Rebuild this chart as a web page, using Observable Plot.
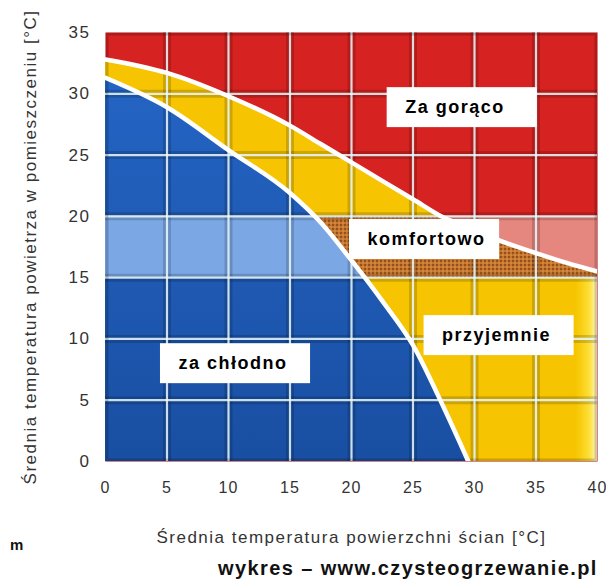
<!DOCTYPE html>
<html><head><meta charset="utf-8">
<script src="https://cdn.jsdelivr.net/npm/d3@7"></script>
<script src="https://cdn.jsdelivr.net/npm/@observablehq/plot@0.6"></script>
<style>
body{margin:0;background:#fff;}
#wrap{position:relative;width:606px;height:584px;overflow:hidden;}
#m{position:absolute;left:10px;top:537px;font:bold 15px "Liberation Sans",Arial,sans-serif;line-height:15px;color:#111;}
#cap{position:absolute;left:218px;top:558px;font:bold 20px "Liberation Sans",Arial,sans-serif;line-height:20px;letter-spacing:1.4px;color:#111;white-space:nowrap;}
</style></head>
<body><div id="wrap"><div id="chart"></div><div id="m">m</div><div id="cap">wykres – www.czysteogrzewanie.pl</div></div>
<script>
// ---- data ----
const xTicks = [0, 5, 10, 15, 20, 25, 30, 35, 40];
const yTicks = [0, 5, 10, 15, 20, 25, 30, 35];
const bandLow = 15, bandHigh = 20;

// boundary between "za chłodno" and the yellow zone
const lowerX = [0, 5, 10, 15, 17.5, 20, 22.5, 25, 27.5, 29.5];
const lowerY = [31.3, 28.9, 25.4, 21.9, 19.5, 16.4, 13.1, 9.5, 4.4, 0];
// boundary between the yellow zone and "Za gorąco"
const upperX = [0, 5, 10, 15, 17.5, 20, 22.5, 25, 27.5, 30, 32.5, 35, 37.5, 40];
const upperY = [32.8, 31.7, 29.8, 27.4, 25.9, 24.4, 22.9, 21.4, 19.9, 18.9, 17.85, 17.0, 16.2, 15.5];

const labelText = ["Za gorąco", "komfortowo", "przyjemnie", "za chłodno"];
const labelX = [22.9, 19.84, 25.9, 4.47];
const labelY = [28.87, 18.11, 10.27, 7.98];

const xLabel = "Średnia temperatura powierzchni ścian [°C]";
const yLabel = "Średnia temperatura powietrza w pomieszczeniu [°C]";

// ---- tables ----
const lower = lowerX.map((x, i) => ({x, y: lowerY[i]}));
const upper = upperX.map((x, i) => ({x, y: upperY[i]}));
const boxW = 12.2, boxH = 3.26;
const labels = labelText.map((t, i) => ({text: t, x: labelX[i], y: labelY[i],
  x1: labelX[i], x2: labelX[i] + boxW, y1: labelY[i] - boxH / 2, y2: labelY[i] + boxH / 2}));
const xDom = [xTicks[0], xTicks[xTicks.length - 1]];
const yDom = [yTicks[0], yTicks[yTicks.length - 1]];
const xInner = xTicks.slice(1, -1), yInner = yTicks.slice(1, -1);

const RED = "#d62220", PINK = "#e6877f", YEL = "#f6c400", LBLUE = "#7ba7e5";
const curve = "monotone-x";

const chart = Plot.plot({
  width: 606, height: 552,
  marginLeft: 105, marginRight: 9, marginTop: 32, marginBottom: 91,
  style: {fontFamily: '"Liberation Sans", Arial, sans-serif', fontSize: "17px", letterSpacing: "1.5px", color: "#333", background: "white"},
  x: {domain: xDom, ticks: xTicks, tickSize: 0, tickPadding: 20, label: xLabel, labelAnchor: "center", labelOffset: 81, labelArrow: false},
  y: {domain: yDom, ticks: yTicks, tickSize: 0, tickPadding: 15, label: yLabel, labelAnchor: "center", labelOffset: 82, labelArrow: false},
  marks: [
    Plot.frame({fill: RED, stroke: "none"}),
    Plot.areaY(upper, {x: "x", y1: 0, y2: "y", fill: YEL, curve}),
    Plot.areaY(upper, {x: "x", y1: 0, y2: "y", fill: "url(#fadeR)", curve}),
    Plot.areaY(lower, {x: "x", y1: 0, y2: "y", fill: "url(#blueGrad)", curve}),
    // lighter band 15–20 °C (clipped below)
    Plot.frame({fill: PINK, stroke: "none"}),
    Plot.areaY(upper, {x: "x", y1: 0, y2: "y", fill: "url(#hatch)", curve}),
    Plot.areaY(lower, {x: "x", y1: 0, y2: "y", fill: LBLUE, curve}),
    // tiles
    Plot.ruleX(xInner, {stroke: "#000", strokeOpacity: 0.16, strokeWidth: 8}),
    Plot.ruleY(yInner, {stroke: "#000", strokeOpacity: 0.16, strokeWidth: 8}),
    Plot.ruleX(xInner, {stroke: "#eafaff", strokeOpacity: 0.85, strokeWidth: 2.2}),
    Plot.ruleY(yInner, {stroke: "#eafaff", strokeOpacity: 0.85, strokeWidth: 2.2}),
    Plot.frame({stroke: "#000", strokeOpacity: 0.18, strokeWidth: 3, inset: 1.5}),
    // white boundary curves
    Plot.line(upper, {x: "x", y: "y", stroke: "white", strokeWidth: 4.5, curve, clip: true}),
    Plot.line(lower, {x: "x", y: "y", stroke: "white", strokeWidth: 4.5, curve, clip: true}),
    // region labels
    Plot.rect(labels, {x1: "x1", x2: "x2", y1: "y1", y2: "y2", fill: "white"}),
    Plot.text(labels, {x: "x", y: "y", text: "text", textAnchor: "start", dx: 18, fill: "#000",
      fontWeight: "bold", fontSize: 18})
  ]
});
document.getElementById("chart").appendChild(chart);

const svg = d3.select(chart);
const markNodes = Array.from(chart.children).filter(n => n.tagName !== "style" && n.tagName !== "defs");
const bandNodes = markNodes.slice(8, 11);   // pink frame, hatched area, light-blue area
const xTickNode = markNodes[2];
const defs = svg.insert("defs", ":first-child");
const xs = chart.scale("x"), ys = chart.scale("y");
defs.append("clipPath").attr("id", "bandClip").attr("clipPathUnits", "userSpaceOnUse").append("rect")
  .attr("x", xs.apply(xDom[0])).attr("width", xs.apply(xDom[1]) - xs.apply(xDom[0]))
  .attr("y", ys.apply(bandHigh)).attr("height", ys.apply(bandLow) - ys.apply(bandHigh));
const wrapG = document.createElementNS("http://www.w3.org/2000/svg", "g");
wrapG.setAttribute("clip-path", "url(#bandClip)");
chart.insertBefore(wrapG, bandNodes[0]);
bandNodes.forEach(n => wrapG.appendChild(n));
xTickNode.style.fontSize = "16px";
xTickNode.style.letterSpacing = "1px";
const g = defs.append("linearGradient").attr("id", "blueGrad").attr("x1", 0).attr("y1", 0).attr("x2", 0).attr("y2", 1);
g.append("stop").attr("offset", "0%").attr("stop-color", "#2464c4");
g.append("stop").attr("offset", "100%").attr("stop-color", "#194fa2");
const f = defs.append("linearGradient").attr("id", "fadeR").attr("x1", 0).attr("y1", 0).attr("x2", 1).attr("y2", 0);
f.append("stop").attr("offset", "0.955").attr("stop-color", "#ffe030").attr("stop-opacity", 0);
f.append("stop").attr("offset", "0.985").attr("stop-color", "#ffe84a").attr("stop-opacity", 0.8);
f.append("stop").attr("offset", "1").attr("stop-color", "#fffbe0").attr("stop-opacity", 0.95);
const p = defs.append("pattern").attr("id", "hatch").attr("width", 4).attr("height", 4).attr("patternUnits", "userSpaceOnUse");
p.append("rect").attr("width", 4).attr("height", 4).attr("fill", "#c7772d");
p.append("circle").attr("cx", 1).attr("cy", 1).attr("r", 1).attr("fill", "#80441a");
p.append("circle").attr("cx", 3).attr("cy", 3).attr("r", 0.8).attr("fill", "#e39c52");
</script></body></html>
